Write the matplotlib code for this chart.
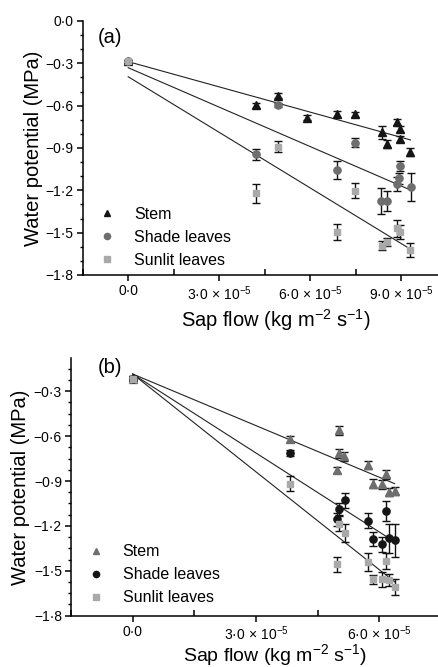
import matplotlib
matplotlib.use("Agg")
import matplotlib.pyplot as plt
import numpy as np
from matplotlib.ticker import MultipleLocator, FuncFormatter
from matplotlib.lines import Line2D

plt.rcParams['font.family'] = ['Liberation Sans', 'DejaVu Sans']
plt.rcParams['mathtext.fontset'] = 'custom'
plt.rcParams['mathtext.rm'] = 'Liberation Sans'
plt.rcParams['mathtext.it'] = 'Liberation Sans:italic'
plt.rcParams['mathtext.bf'] = 'Liberation Sans:bold'

SCALE = 1e-5  # sap flow values below are in units of 1e-5 kg m-2 s-1

series_labels = ["Stem", "Shade leaves", "Sunlit leaves"]

# ---- Panel (a) ----
a_stem_x = [0, 4.22, 4.94, 5.91, 6.90, 7.49, 8.36, 8.52, 8.87, 8.97, 8.97, 9.31]
a_stem_y = [-0.285, -0.597, -0.529, -0.685, -0.661, -0.661, -0.789, -0.872, -0.716, -0.765, -0.838, -0.930]
a_stem_err = [0.012, 0.018, 0.018, 0.02, 0.022, 0.018, 0.045, 0.03, 0.02, 0.02, 0.022, 0.03]

a_shade_x = [0, 4.22, 4.94, 6.90, 7.49, 8.34, 8.52, 8.85, 8.97, 8.93, 9.32]
a_shade_y = [-0.285, -0.945, -0.597, -1.056, -0.862, -1.276, -1.276, -1.157, -1.028, -1.115, -1.179]
a_shade_err = [0.012, 0.04, 0.015, 0.064, 0.033, 0.09, 0.07, 0.05, 0.035, 0.04, 0.1]

a_sun_x = [0, 4.22, 4.94, 6.90, 7.49, 8.36, 8.52, 8.85, 8.97, 9.31]
a_sun_y = [-0.285, -1.221, -0.891, -1.495, -1.203, -1.592, -1.568, -1.469, -1.493, -1.623]
a_sun_err = [0.012, 0.066, 0.04, 0.056, 0.053, 0.033, 0.03, 0.06, 0.05, 0.05]

a_fit_intercept = [-0.288, -0.331, -0.395]
a_fit_slope = [-0.0596, -0.0931, -0.1313]   # MPa per 1e-5 kg m-2 s-1
a_fit_xmax = 9.31

# ---- Panel (b) ----
b_stem_x = [0, 3.83, 5.03, 5.03, 5.15, 4.97, 5.72, 6.15, 5.84, 6.07, 6.23, 6.37]
b_stem_y = [-0.215, -0.616, -0.561, -0.716, -0.734, -0.828, -0.794, -0.854, -0.917, -0.921, -0.973, -0.966]
b_stem_err = [0.015, 0.02, 0.03, 0.03, 0.03, 0.02, 0.025, 0.03, 0.03, 0.03, 0.025, 0.025]

b_shade_x = [0, 3.83, 5.17, 5.03, 4.97, 5.72, 5.84, 6.07, 6.23, 6.37, 6.15]
b_shade_y = [-0.215, -0.716, -1.028, -1.088, -1.157, -1.166, -1.289, -1.324, -1.284, -1.295, -1.10]
b_shade_err = [0.015, 0.02, 0.05, 0.04, 0.045, 0.05, 0.045, 0.05, 0.1, 0.11, 0.065]

b_sun_x = [0, 3.83, 4.97, 5.03, 5.17, 5.72, 5.84, 6.07, 6.15, 6.23, 6.37]
b_sun_y = [-0.215, -0.917, -1.456, -1.184, -1.245, -1.44, -1.556, -1.556, -1.434, -1.562, -1.607]
b_sun_err = [0.015, 0.05, 0.05, 0.05, 0.06, 0.06, 0.03, 0.05, 0.055, 0.04, 0.055]

b_fit_intercept = [-0.185, -0.185, -0.185]
b_fit_slope = [-0.115, -0.176, -0.218]
b_fit_xmax = 6.37

BLACK = '#151515'
DARK = '#6e6e6e'
LIGHT = '#a9a9a9'

fig = plt.figure(figsize=(4.39, 6.67), dpi=100)
W, H = 439.0, 667.0

def ax_from_px(left, top, right, bottom):
    return fig.add_axes([left / W, 1 - bottom / H, (right - left) / W, (bottom - top) / H])

axA = ax_from_px(82.7, 21, 439, 275)
axB = ax_from_px(71, 358.3, 439, 615.7)


def yfmt(v, pos):
    if abs(v) < 1e-9:
        return '0·0'
    s = f'{v:.1f}'.replace('.', '·').replace('-', '\u2212')
    return s


def xfmt(v, pos):
    u = v / SCALE
    if abs(u) < 1e-9:
        return '0·0'
    return f'{u:.1f}'.replace('.', '·') + r'$\,\times\,$10$^{\mathregular{-5}}$'


def style_axes(ax, xlim, ylim, yminor):
    ax.set_xlim(*xlim)
    ax.set_ylim(*ylim)
    for s in ['top', 'right']:
        ax.spines[s].set_visible(False)
    for s in ['left', 'bottom']:
        ax.spines[s].set_linewidth(1.1)
    ax.xaxis.set_major_locator(MultipleLocator(3 * SCALE))
    ax.xaxis.set_minor_locator(MultipleLocator(1.5 * SCALE))
    ax.yaxis.set_major_locator(MultipleLocator(0.3))
    ax.yaxis.set_minor_locator(MultipleLocator(yminor))
    ax.xaxis.set_major_formatter(FuncFormatter(xfmt))
    ax.yaxis.set_major_formatter(FuncFormatter(yfmt))
    ax.tick_params(axis='x', which='major', direction='out', length=4, width=1.1, labelsize=10, pad=2.5)
    ax.tick_params(axis='x', which='minor', direction='in', length=4, width=1.1)
    ax.tick_params(axis='y', which='major', direction='out', length=4.5, width=1.1, labelsize=10, pad=2)
    ax.tick_params(axis='y', which='minor', direction='out', length=2.5, width=1.0)


def draw_panel(ax, data, colors, markers, sizes, fits, xmax):
    for (x, y, e), c, m, ms in zip(data, colors, markers, sizes):
        ax.errorbar(np.array(x) * SCALE, y, yerr=e, fmt=m, color=c, ms=ms,
                    mec=c, ecolor='#111111', elinewidth=1.0, capsize=3.2, capthick=1.0,
                    zorder=3, linestyle='none')
    intercepts, slopes = fits
    xs = np.array([0.0, xmax])
    for b0, b1 in zip(intercepts, slopes):
        ax.plot(xs * SCALE, b0 + b1 * xs, color='#222222', lw=0.8, zorder=2)


# Panel (a)
style_axes(axA, (-1.5 * SCALE, 10.25 * SCALE), (-1.8, 0.0), 0.1)
colsA = [BLACK, DARK, LIGHT]
mksA = ['^', 'o', 's']
draw_panel(axA, [(a_stem_x, a_stem_y, a_stem_err), (a_shade_x, a_shade_y, a_shade_err),
                 (a_sun_x, a_sun_y, a_sun_err)], colsA, mksA, [6.2, 5.2, 4.6],
           (a_fit_intercept, a_fit_slope), a_fit_xmax)

# Panel (b)
style_axes(axB, (-1.5 * SCALE, 7.45 * SCALE), (-1.8, -0.08), 0.075)
colsB = [DARK, BLACK, LIGHT]
mksB = ['^', 'o', 's']
draw_panel(axB, [(b_stem_x, b_stem_y, b_stem_err), (b_shade_x, b_shade_y, b_shade_err),
                 (b_sun_x, b_sun_y, b_sun_err)], colsB, mksB, [6.2, 5.2, 4.6],
           (b_fit_intercept, b_fit_slope), b_fit_xmax)

for ax, cols, mks, lbl, lx, ly, ylx, xlx, xly, xfs, legxy in [
        (axA, colsA, mksA, '(a)', 0.077, 0.937, -0.139, 0.541, -0.177, 14.5, (0.045, 0.028)),
        (axB, colsB, mksB, '(b)', 0.105, 0.966, -0.136, 0.553, -0.154, 14.0, (0.045, 0.040))]:
    ax.text(lx, ly, lbl, transform=ax.transAxes, fontsize=14.5, ha='center', va='center')
    ax.set_ylabel('Water potential (MPa)', fontsize=14.5)
    ax.yaxis.set_label_coords(ylx, 0.5)
    ax.yaxis.label.set_va('center')
    ax.set_xlabel('Sap flow (kg m$^{\\mathregular{-2}}$ s$^{\\mathregular{-1}}$)', fontsize=xfs)
    ax.xaxis.set_label_coords(xlx, xly)
    ax.xaxis.label.set_va('center')
    handles = [Line2D([], [], marker=m, color=c, linestyle='none', ms=4.5) for m, c in zip(mks, cols)]
    ax.legend(handles, series_labels, loc='lower left', bbox_to_anchor=legxy, frameon=False,
              fontsize=11.5, handlelength=1.0, handletextpad=1.2, labelspacing=0.5,
              borderpad=0, borderaxespad=0)

fig.savefig('out.png', dpi=100)
